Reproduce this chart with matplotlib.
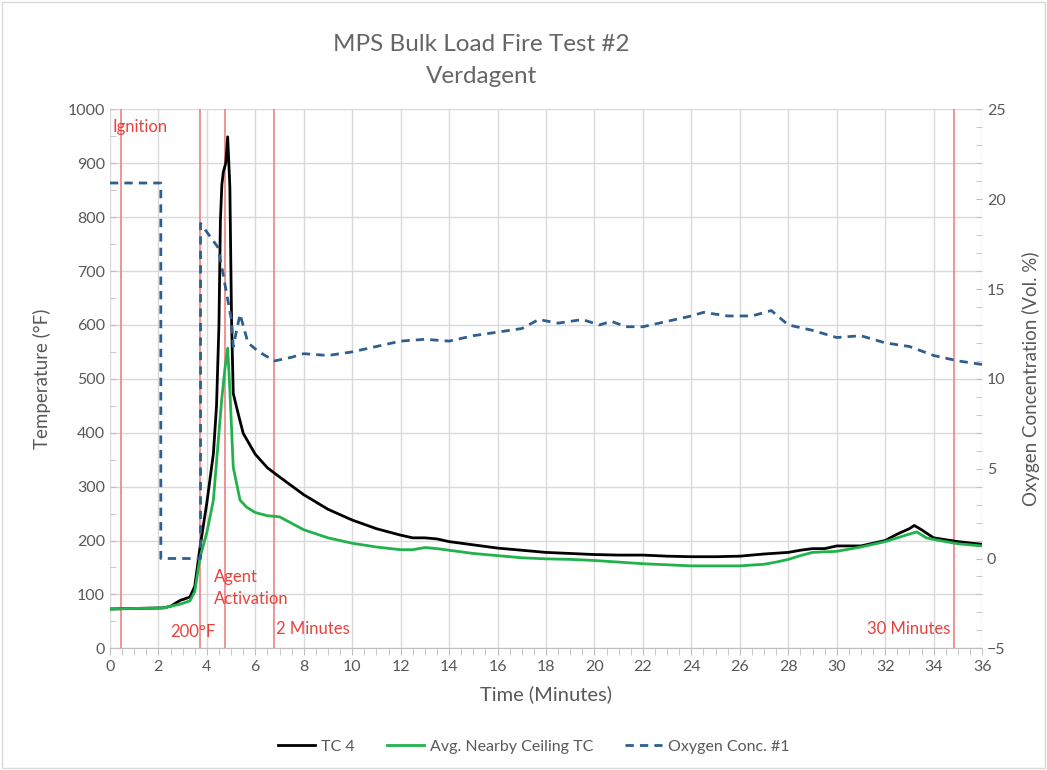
import matplotlib.pyplot as plt
from matplotlib.patches import Rectangle
from matplotlib.ticker import MultipleLocator

plt.rcParams['font.family'] = ['Lato', 'DejaVu Sans']

# data (minutes, degF, vol. %)
tc4_t = [0, 1, 2.2, 2.5, 2.9, 3.3, 3.5, 3.72, 4.0, 4.27, 4.4, 4.5, 4.56, 4.62, 4.68,
         4.78, 4.86, 4.95, 5.02, 5.09, 5.29, 5.5, 6.0, 6.5, 7, 8, 9, 10, 11, 12, 12.5, 13,
         13.5, 14, 15, 16, 17, 18, 19, 20, 21, 22, 23, 24, 25, 26, 27, 28, 28.5, 29, 29.5,
         30, 31, 32, 32.5, 33, 33.2, 33.5, 34, 35, 36]
tc4 = [73, 74, 75, 78, 89, 95, 115, 188, 270, 361, 450, 600, 794, 860, 884, 900, 949, 856,
       608, 473, 436, 399, 360, 335, 318, 285, 258, 238, 222, 210, 205, 205, 203, 198, 192,
       186, 182, 178, 176, 174, 173, 173, 171, 170, 170, 171, 175, 178, 182, 185, 185, 190,
       190, 200, 212, 222, 228, 220, 205, 198, 193]

ceil_t = [0, 1, 2.2, 2.9, 3.3, 3.5, 3.72, 4.0, 4.27, 4.61, 4.75, 4.86, 4.95, 5.09, 5.37,
          5.64, 6.0, 6.5, 7.0, 7.5, 8, 9, 10, 11, 12, 12.5, 13, 13.5, 14, 15, 16, 17, 18,
          19, 20, 21, 22, 23, 24, 25, 26, 27, 27.5, 28, 28.5, 29, 30, 31, 32, 33, 33.3,
          33.7, 34, 35, 36]
ceil = [73, 74, 75, 82, 88, 105, 169, 215, 275, 460, 520, 557, 480, 336, 275, 262, 252,
        246, 244, 232, 220, 205, 195, 188, 183, 183, 187, 185, 182, 176, 172, 168, 166, 165,
        163, 160, 157, 155, 153, 153, 153, 156, 160, 165, 172, 178, 180, 188, 198, 212, 216,
        205, 202, 194, 190]

o2_t = [0, 2.1, 2.1, 3.74, 3.74, 4.47, 5.02, 5.09, 5.37, 5.7, 6.06, 6.4, 6.8, 7.5, 8, 9,
        10, 11, 12, 13, 14, 15, 16, 17, 17.7, 18.5, 19.5, 20.2, 20.7, 21.3, 22, 23, 24,
        24.5, 25.5, 26.5, 27.3, 28, 29, 30, 31, 32, 33, 34, 35, 36]
o2 = [20.9, 20.9, 0, 0, 18.65, 17.3, 13.25, 11.8, 13.6, 12.0, 11.6, 11.3, 11.0, 11.2,
      11.4, 11.3, 11.5, 11.8, 12.1, 12.2, 12.1, 12.4, 12.6, 12.8, 13.3, 13.1, 13.3, 13.0,
      13.2, 12.9, 12.9, 13.2, 13.5, 13.7, 13.5, 13.5, 13.8, 13.0, 12.7, 12.3, 12.4, 12.0,
      11.8, 11.3, 11.0, 10.8]

event_x = [0.45, 3.72, 4.75, 6.77, 34.85]

gray = '#595959'
red = '#e8413c'

fig = plt.figure(figsize=(10.47, 7.70), dpi=100)
ax = fig.add_axes([0.105, 0.158, 0.833, 0.700])
ax2 = ax.twinx()

for x in event_x:
    ax.axvline(x, color='#f08a8a', lw=1.3, zorder=2)

ax.plot(tc4_t, tc4, color='black', lw=2, label='TC 4', zorder=4)
ax.plot(ceil_t, ceil, color='#22b24c', lw=2, label='Avg. Nearby Ceiling TC', zorder=4)
ax2.plot(o2_t, o2, color='#2f5f8f', lw=2, ls=(0, (3, 2.2)), label='Oxygen Conc. #1')

ax.set_xlim(0, 36)
ax.set_ylim(0, 1000)
ax2.set_ylim(-5, 25)
ax.xaxis.set_major_locator(MultipleLocator(2))
ax.xaxis.set_minor_locator(MultipleLocator(0.5))
ax.yaxis.set_major_locator(MultipleLocator(100))
ax.yaxis.set_minor_locator(MultipleLocator(50))
ax2.yaxis.set_major_locator(MultipleLocator(5))
ax2.yaxis.set_minor_locator(MultipleLocator(1))
ax.grid(True, which='major', color='#d9d9d9', lw=1)
ax.set_axisbelow(True)

for a in (ax, ax2):
    for s in a.spines.values():
        s.set_visible(False)
    a.tick_params(which='both', colors='#bfbfbf', labelcolor=gray, labelsize=11.5)
ax.spines['bottom'].set_visible(True)
ax.spines['bottom'].set_color('#bfbfbf')
ax.tick_params(axis='x', which='both', length=5)
ax.tick_params(axis='y', which='both', length=4, direction='in')
ax2.tick_params(axis='y', which='both', length=4, direction='in')

ax.set_xlabel('Time (Minutes)', fontsize=14.5, color=gray, labelpad=8)
ax.set_ylabel('Temperature (°F)', fontsize=13.5, color=gray, labelpad=12)
ax2.set_ylabel('Oxygen Concentration (Vol. %)', fontsize=13.5, color=gray, labelpad=12)

fig.text(0.46, 0.942, 'MPS Bulk Load Fire Test #2', ha='center', va='center',
         fontsize=17.5, color='#666666')
fig.text(0.46, 0.901, 'Verdagent', ha='center', va='center', fontsize=17.5,
         color='#666666')

ax.text(0.1, 968, 'Ignition', color=red, fontsize=12, va='center', ha='left')
ax.text(2.5, 30, '200°F', color=red, fontsize=12, va='center', ha='left')
ax.text(4.3, 132, 'Agent', color=red, fontsize=12, va='center', ha='left')
ax.text(4.3, 92, 'Activation', color=red, fontsize=12, va='center', ha='left')
ax.text(6.85, 35, '2 Minutes', color=red, fontsize=12, va='center', ha='left')
ax.text(34.7, 35, '30 Minutes', color=red, fontsize=12, va='center', ha='right')

h1, l1 = ax.get_legend_handles_labels()
h2, l2 = ax2.get_legend_handles_labels()
fig.legend(h1 + h2, l1 + l2, loc='center', bbox_to_anchor=(0.51, 0.03), ncol=3,
           frameon=False, fontsize=11.5, labelcolor=gray, handlelength=2.3,
           handletextpad=0.4, columnspacing=2.0)

fig.patches.append(Rectangle((0.002, 0.002), 0.996, 0.996, transform=fig.transFigure,
                             fill=False, edgecolor='#d9d9d9', lw=1))

fig.savefig('out.png', dpi=100)
